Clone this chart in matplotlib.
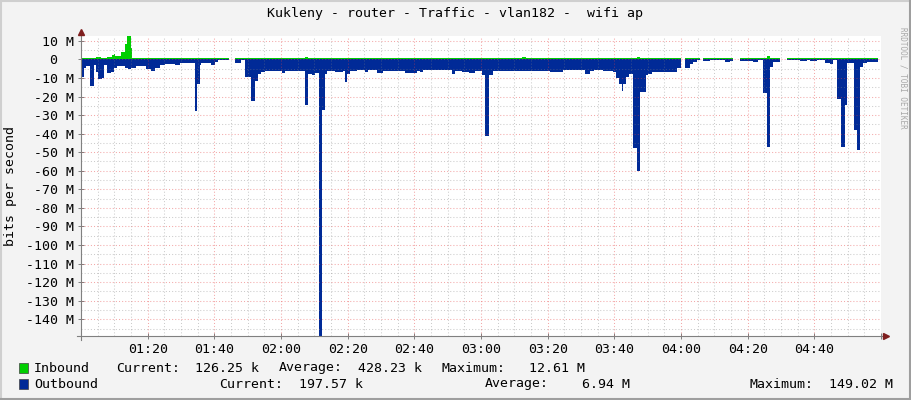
import numpy as np
import matplotlib
matplotlib.use("Agg")
import matplotlib.pyplot as plt
from matplotlib.patches import Rectangle
from matplotlib.lines import Line2D

# minutes after 01:00, values in Mbit/s
END = 239.0
out_t = [0, 0.9, 1.6, 2.8, 3.9, 4.5, 5.1, 6.4, 6.9, 7.8, 9.0, 9.9, 10.9, 13.1, 14.1, 15.1, 16.6,
         19.6, 21.1, 22.1, 23.6, 25.1, 28.1, 29.6, 34.1, 34.9, 35.7, 36.1, 39.1, 40.1, 41.1, 44.4,
         46.1, 48.1, 49.1, 51.0, 52.2, 53.1, 54.0, 55.2, 60.2, 61.2, 67.2, 68.2, 69.2, 70.2, 71.4,
         72.2, 73.2, 73.7, 76.2, 78.7, 79.2, 79.9, 80.7, 82.7, 85.2, 86.2, 88.7, 90.7, 97.2, 100.7,
         101.7, 102.7, 111.2, 112.2, 114.2, 116.5, 118.2, 120.2, 121.2, 122.5, 123.5, 139.7, 140.7,
         144.7, 151.2, 152.7, 153.9, 156.7, 159.7, 160.5, 161.5, 162.2, 162.7, 163.5, 164.5, 165.7,
         166.7, 167.7, 169.5, 170.2, 171.2, 178.9, 179.9, 181.2, 182.7, 183.7, 184.7, 185.7, 186.7,
         188.7, 189.7, 192.7, 193.2, 194.7, 195.7, 197.7, 200.7, 201.7, 203.2, 204.7, 205.9, 206.7,
         207.7, 209.7, 211.7, 215.7, 217.7, 218.7, 220.7, 223.2, 224.7, 225.7, 226.7, 228.0, 229.2,
         229.9, 231.9, 232.8, 233.7, 234.7, 235.7]
out_v = [-9.5, -4.8, -3.4, -14.4, -3.0, -6.6, -10.6, -10.0, -3.0, -7.2, -6.6, -4.8, -3.4, -4.5, -5.2,
         -4.5, -3.4, -5.2, -6.3, -4.5, -3.0, -2.7, -3.0, -2.2, -27.8, -13.5, -3.0, -1.8, -3.0, -1.3,
         -0.5, np.nan, -1.8, -0.5, -9.5, -22.4, -11.7, -8.0, -6.6, -6.3, -7.2, -6.3, -24.6, -8.0,
         -8.3, -7.2, -149.02, -27.3, -7.7, -6.3, -6.9, -6.3, -12.0, -7.7, -6.3, -5.9, -6.9, -5.9,
         -7.2, -6.3, -7.2, -6.3, -6.9, -5.7, -7.9, -6.3, -6.6, -7.2, -6.3, -8.3, -41.5, -8.3, -6.0,
         -6.3, -6.9, -5.7, -7.9, -6.3, -5.7, -6.3, -6.9, -9.9, -13.5, -17.1, -13.5, -9.3, -8.0,
         -48.0, -60.3, -17.4, -8.3, -8.0, -6.9, -4.5, np.nan, -4.5, -2.5, -1.3, -0.4, np.nan, -0.7,
         -0.2, -0.5, -0.2, -1.3, -0.9, np.nan, -0.7, -0.9, -1.3, -0.5, -17.9, -47.4, -4.0, -1.3,
         np.nan, -0.4, -0.7, -0.3, -0.7, -0.4, -1.8, -2.7, -0.5, -21.4, -47.4, -24.6, -1.8, -38.0,
         -49.0, -4.0, -1.8, -1.3]

in_t = [0, 4.5, 6.0, 7.7, 9.2, 9.9, 10.1, 12.0, 13.1, 13.9, 14.9, 15.3, 15.9, 44.4, 46.1, 67.2,
        68.2, 132.2, 133.5, 166.7, 167.7, 179.9, 181.2, 185.7, 186.7, 195.7, 197.7, 205.9, 206.7,
        209.7, 211.7]
in_v = [0.5, 1.3, 0.5, 1.2, 2.2, 2.7, 2.0, 4.1, 8.3, 12.61, 6.0, 1.0, 0.5, np.nan, 0.5, 1.5, 0.5,
        1.5, 0.5, 1.5, 0.5, np.nan, 0.5, np.nan, 0.5, np.nan, 0.5, 1.8, 0.5, np.nan, 0.5]

xticks_major = list(range(0, 241, 20))
xlabels = ["", "01:20", "01:40", "02:00", "02:20", "02:40", "03:00", "03:20", "03:40",
           "04:00", "04:20", "04:40", ""]
yticks_major = list(range(-140, 11, 10))

title = "Kukleny - router - Traffic - vlan182 -  wifi ap"
leg_in = ["Inbound", "Current:", "126.25 k", "Average:", "428.23 k", "Maximum:", "12.61 M"]
leg_out = ["Outbound", "Current:", "197.57 k", "Average:", "6.94 M", "Maximum:", "149.02 M"]

GREEN = "#00CF00"
BLUE = "#002A97"
BG = "#F3F3F3"
AXC = "#808080"
MGRID = (0.90, 0.25, 0.25, 0.45)   # rrdtool MGRID, semi-transparent
GRID = (0.50, 0.50, 0.50, 0.40)
MONO = "DejaVu Sans Mono"
FS = 9.5

W, H = 911, 400
fig = plt.figure(figsize=(W / 100, H / 100), dpi=100, facecolor=BG)
ax = fig.add_axes([81 / W, 64 / H, 800 / W, 300 / H])
ax.set_facecolor("white")
ax.set_xlim(0, 240)
ax.set_ylim(-149.02, 12.61)
for s in ax.spines.values():
    s.set_visible(False)

ax.stairs(np.nan_to_num(in_v), in_t + [END], baseline=0, fill=True, color=GREEN, lw=0, zorder=2)
ax.stairs(np.nan_to_num(out_v), out_t + [END], baseline=0, fill=True, color=BLUE, lw=0, zorder=2)

# grid on top of data, rrdtool style
for m in range(5, 240, 5):
    ax.axvline(m, color=MGRID if m % 20 == 0 else GRID, lw=0.75, ls=(0, (1, 2)), zorder=3)
for v in np.arange(-145, 12, 5):
    ax.axhline(v, color=MGRID if v % 10 == 0 else GRID, lw=0.75, ls=(0, (1, 2)), zorder=3)

ax.set_xticks(xticks_major)
ax.set_xticklabels(xlabels, fontfamily=MONO, fontsize=FS)
ax.set_yticks(yticks_major)
ax.set_yticklabels([f"{v} M" if v != 0 else "0  " for v in yticks_major], fontfamily=MONO, fontsize=FS)
ax.tick_params(axis="both", direction="inout", length=4, width=0.7, color=AXC, pad=3)

# axes with arrows
ax.plot([0, 0], [-4 / 300, 1 + 3 / 300], transform=ax.transAxes, color=AXC, lw=0.8, clip_on=False, zorder=4)
ax.plot([-4 / 800, 1 + 4 / 800], [0, 0], transform=ax.transAxes, color=AXC, lw=0.8, clip_on=False, zorder=4)
ax.plot(0, 1 + 4.5 / 300, marker="^", ms=5, color="#7F1F1F", transform=ax.transAxes, clip_on=False, zorder=5)
ax.plot(1 + 5 / 800, 0, marker=">", ms=5, color="#7F1F1F", transform=ax.transAxes, clip_on=False, zorder=5)


def T(x, y, s, **kw):
    kw.setdefault("fontsize", FS)
    kw.setdefault("family", MONO)
    fig.text(x / W, 1 - y / H, s, va="center", **kw)


T(455, 14, title, ha="center")
T(11, 186, "bits per second", ha="center", rotation=90)
T(903, 78, "RRDTOOL / TOBI OETIKER", ha="center", rotation=270, fontsize=5.5, color="#A8A8A8")

xs_in = [34, 116, 195, 279, 358, 441, 529]
xs_out = [34, 219, 299, 485, 582, 750, 829]
for x, s in zip(xs_in, leg_in):
    T(x, 368, s)
for x, s in zip(xs_out, leg_out):
    T(x, 384, s)
for y, c in [(368, GREEN), (384, BLUE)]:
    fig.add_artist(Rectangle((19 / W, 1 - (y + 5) / H), 9 / W, 10 / H, transform=fig.transFigure,
                             fc=c, ec="#404040", lw=0.5))

# bevelled border
fig.add_artist(Line2D([0, 1], [1 - 1 / H, 1 - 1 / H], transform=fig.transFigure, color="#CFCFCF", lw=1.5))
fig.add_artist(Line2D([1 / W, 1 / W], [0, 1], transform=fig.transFigure, color="#CFCFCF", lw=1.5))
fig.add_artist(Line2D([0, 1], [1 / H, 1 / H], transform=fig.transFigure, color="#9E9E9E", lw=1.5))
fig.add_artist(Line2D([1 - 1 / W, 1 - 1 / W], [0, 1], transform=fig.transFigure, color="#9E9E9E", lw=1.5))

fig.savefig("out.png", dpi=100, facecolor=BG)
